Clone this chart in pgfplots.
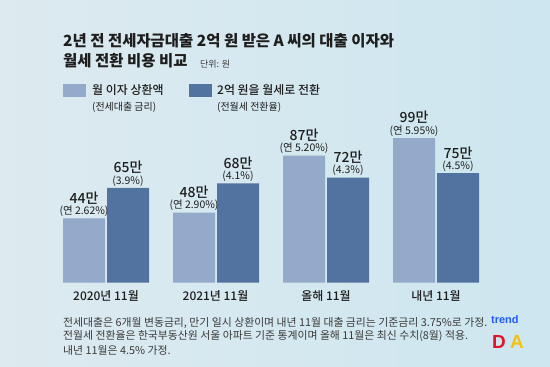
\documentclass[border=0pt]{standalone}
\usepackage{pgfplots}
\pgfplotsset{compat=1.18}
\usepackage{fontspec}
\setmainfont{Noto Sans CJK KR}
\newfontfamily\krmed{Noto Sans CJK KR Medium}
\newfontfamily\logofont{Liberation Sans}
\definecolor{bglight}{HTML}{DDEAF0}
\definecolor{bgcyan}{HTML}{CDE6EF}
\definecolor{barlight}{HTML}{93AACA}
\definecolor{bardark}{HTML}{52739F}
\definecolor{txt}{HTML}{1E1E1E}
\definecolor{foot}{HTML}{3A3A3A}
\definecolor{logoblue}{HTML}{1F5BFF}
\definecolor{logored}{HTML}{E3132B}
\definecolor{logoyellow}{HTML}{F4C20D}
\newcommand{\vl}[2]{\shortstack{{\krmed\fontsize{14}{15}\selectfont #1}\\[-1pt]{\fontsize{10.5}{11}\selectfont #2}}}
\begin{document}
\begin{tikzpicture}[x=1bp,y=1bp]
\shade[left color=bglight,right color=bgcyan] (0,0) rectangle (550,366);
% title
\node[anchor=west,text=txt,inner sep=0pt] at (63,325) {\fontsize{15.5}{16}\selectfont\bfseries 2년 전 전세자금대출 2억 원 받은 A 씨의 대출 이자와};
\node[anchor=west,text=txt,inner sep=0pt] (t2) at (63,305) {\fontsize{15.5}{16}\selectfont\bfseries 월세 전환 비용 비교};
\node[anchor=west,text=foot,inner sep=0pt] at (200,302) {\fontsize{9}{10}\selectfont 단위: 원};
% legend
\fill[barlight] (63,269) rectangle (86,282);
\node[anchor=west,text=txt,inner sep=0pt] at (92,276) {\krmed\fontsize{12}{12}\selectfont 월 이자 상환액};
\node[anchor=west,text=txt,inner sep=0pt] at (92,259) {\fontsize{10}{10}\selectfont (전세대출 금리)};
\fill[bardark] (189,269) rectangle (212,282);
\node[anchor=west,text=txt,inner sep=0pt] at (217,276) {\krmed\fontsize{12}{12}\selectfont 2억 원을 월세로 전환};
\node[anchor=west,text=txt,inner sep=0pt] at (217,259) {\fontsize{10}{10}\selectfont (전월세 전환율)};
\begin{axis}[
  at={(51bp,83.3bp)}, anchor=south west,
  scale only axis, width=440bp, height=146bp,
  xmin=-0.5, xmax=3.5, ymin=0, ymax=100,
  ybar=2bp, bar width=42bp,
  axis lines=none,
  clip=false,
  xtick=data,
  point meta=explicit symbolic,
  nodes near coords,
  nodes near coords style={anchor=south, inner sep=1.5pt, text=txt},
]
\addplot[fill=barlight, draw=none] coordinates {
  (0,44) [\vl{44만}{(연 2.62\%)}]
  (1,48) [\vl{48만}{(연 2.90\%)}]
  (2,87) [\vl{87만}{(연 5.20\%)}]
  (3,99) [\vl{99만}{(연 5.95\%)}]
};
\addplot[fill=bardark, draw=none] coordinates {
  (0,65) [\vl{65만}{(3.9\%)}]
  (1,68) [\vl{68만}{(4.1\%)}]
  (2,72) [\vl{72만}{(4.3\%)}]
  (3,75) [\vl{75만}{(4.5\%)}]
};
\end{axis}
% category labels
\begin{scope}[every node/.style={text=txt,inner sep=0pt}]
\node at (106,70) {\krmed\fontsize{12}{12}\selectfont 2020년 11월};
\node at (215.5,70) {\krmed\fontsize{12}{12}\selectfont 2021년 11월};
\node at (326,70) {\krmed\fontsize{12}{12}\selectfont 올해 11월};
\node at (436,70) {\krmed\fontsize{12}{12}\selectfont 내년 11월};
\end{scope}
% footnote
\begin{scope}[every node/.style={anchor=west,text=foot,inner sep=0pt}]
\node at (63,43.3) {\fontsize{10.9}{11}\selectfont 전세대출은 6개월 변동금리, 만기 일시 상환이며 내년 11월 대출 금리는 기준금리 3.75\%로 가정.};
\node at (63,30) {\fontsize{10.9}{11}\selectfont 전월세 전환율은 한국부동산원 서울 아파트 기준 통계이며 올해 11월은 최신 수치(8월) 적용.};
\node at (63,15.3) {\fontsize{10.9}{11}\selectfont 내년 11월은 4.5\% 가정.};
\end{scope}
% logo
\node[anchor=west,inner sep=0pt,text=logoblue] at (491,46) {\logofont\bfseries\fontsize{11}{12}\selectfont trend};
\node[anchor=west,inner sep=0pt,text=logored] at (492,24) {\logofont\bfseries\fontsize{19}{20}\selectfont D};
\node[anchor=west,inner sep=0pt,text=logoyellow] at (510,24) {\logofont\bfseries\fontsize{19}{20}\selectfont A};
\end{tikzpicture}
\end{document}
